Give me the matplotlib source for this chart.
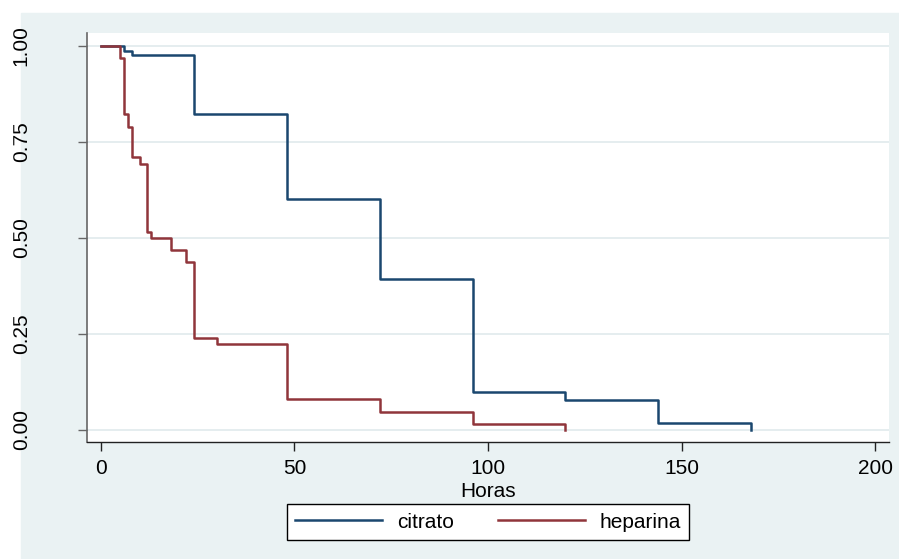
# Kaplan-Meier style survival curves, citrato vs heparina
from matplotlib import pyplot as plt
from matplotlib.patches import Rectangle

# data
citrato_t = [0, 6, 8, 24, 48, 72, 96, 120, 144, 168]
citrato_s = [1.0, 0.987, 0.977, 0.821, 0.601, 0.393, 0.098, 0.078, 0.018, 0.0]

heparina_t = [0, 5, 6, 7, 8, 10, 12, 13, 18, 22, 24, 30, 48, 72, 96, 120]
heparina_s = [1.0, 0.969, 0.821, 0.789, 0.711, 0.692, 0.516, 0.499, 0.468,
              0.436, 0.240, 0.222, 0.080, 0.047, 0.015, 0.0]

x_ticks = [0, 50, 100, 150, 200]
y_ticks = [0.0, 0.25, 0.50, 0.75, 1.0]
y_labels = ["0.00", "0.25", "0.50", "0.75", "1.00"]

# colours (stata s2color look)
bg = "#eaf2f3"
blue = "#1a476f"
red = "#90353b"

plt.rcParams["font.family"] = ["Liberation Sans", "DejaVu Sans"]
fs = 15

W, H = 899, 559
fig = plt.figure(figsize=(W / 100, H / 100), dpi=100, facecolor="white")
fig.patches.append(Rectangle((21 / W, 0), (W - 21) / W, (H - 13) / H,
                             transform=fig.transFigure, color=bg, zorder=-10))
# the original crop cuts the y labels on the left
fig.patches.append(Rectangle((0, 0), 12 / W, 1, transform=fig.transFigure,
                             color="white", zorder=10))

ax = fig.add_axes([87 / W, (H - 442) / H, (889 - 87) / W, (442 - 33) / H])
ax.set_facecolor("white")

ax.step(citrato_t, citrato_s, where="post", color=blue, lw=1.8, label="citrato")
ax.step(heparina_t, heparina_s, where="post", color=red, lw=1.8, label="heparina")

ax.set_xlim(-3.6, 203.6)
ax.set_ylim(-0.032, 1.033)

ax.set_xticks(x_ticks)
ax.set_yticks(y_ticks)
ax.set_yticklabels(y_labels, rotation=90, va="center")
ax.grid(axis="y", color="#e3ecee", lw=1.3)
ax.set_axisbelow(True)

for s in ["top", "right"]:
    ax.spines[s].set_visible(False)
ax.spines["left"].set_color("#666666")
ax.spines["bottom"].set_color("#222222")
ax.spines["left"].set_linewidth(1.2)
ax.spines["bottom"].set_linewidth(1.0)

ax.tick_params(axis="x", length=6.5, width=1, color="#222222", pad=5.5,
               labelsize=fs, labelcolor="black")
ax.tick_params(axis="y", length=6.5, width=1, color="#666666", pad=34,
               labelsize=fs, labelcolor="black")

ax.set_xlabel("Horas", fontsize=fs, labelpad=3)

fig.legend(loc="center", bbox_to_anchor=(488 / W, 37 / H), ncol=2,
           fontsize=fs, frameon=True, fancybox=False, edgecolor="black",
           framealpha=1, handlelength=4.2, handletextpad=0.7,
           columnspacing=2.1, borderpad=0.4)

plt.savefig("out.png", dpi=100, facecolor=fig.get_facecolor())
